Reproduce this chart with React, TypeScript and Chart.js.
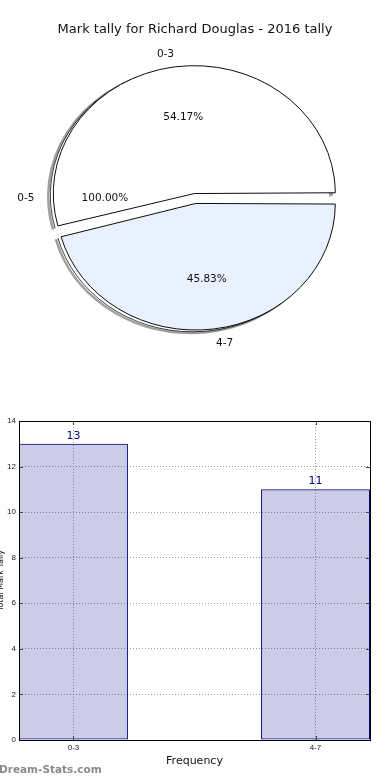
import React, { useEffect, useRef } from "react";
import { Chart, registerables } from "chart.js";

Chart.register(...registerables);

// ---- data ----
const pieCategories = ["0-3", "0-5", "4-7"];
const pieValues = [13, 0, 11];
const piePercentLabels = ["54.17%", "100.00%", "45.83%"];
const barCategories = ["0-3", "4-7"];
const barValues = [13, 11];
const yTickValues = [0, 2, 4, 6, 8, 10, 12, 14];

const TITLE = "Mark tally for Richard Douglas - 2016 tally";
const X_TITLE = "Frequency";
const Y_TITLE = "Total Mark Tally";
const WATERMARK = "Dream-Stats.com";

// drawing order for the pie (clockwise from east)
const pieOrder = [2, 1, 0];
const pieColors = ["#ffffff", "#ffffff", "#eaf1fe"];
const Y_RATIO = 0.907;
const FONT = "'DejaVu Sans', sans-serif";

const piePlugin = {
  id: "pieDecor",
  beforeDatasetsDraw(chart: any) {
    const ctx = chart.ctx as CanvasRenderingContext2D;
    const meta = chart.getDatasetMeta(0);
    const cy = meta.data[0].y;
    ctx.save();
    ctx.translate(0, cy);
    ctx.scale(1, Y_RATIO);
    ctx.translate(0, -cy);
    // shadow rings
    meta.data.forEach((arc: any) => {
      const circ = arc.endAngle - arc.startAngle;
      if (circ <= 0) return;
      const t = (arc.options.offset || 0) / 4;
      const mid = (arc.startAngle + arc.endAngle) / 2;
      const fix = 1 - Math.sin(Math.min(Math.PI, circ));
      const r = arc.outerRadius + t * fix;
      const cx = arc.x + Math.cos(mid) * t;
      const cyy = arc.y + Math.sin(mid) * t;
      const layers: [number, number, string, number][] = [
        [-5, 3, "rgba(80,80,80,0.55)", 2.6],
        [-3, 1.8, "rgba(0,0,0,0.85)", 0.9],
      ];
      layers.forEach(([dx, dy, col, lw]) => {
        ctx.beginPath();
        ctx.arc(cx + dx, cyy + dy / Y_RATIO, r, arc.startAngle, arc.endAngle);
        ctx.strokeStyle = col;
        ctx.lineWidth = lw;
        ctx.stroke();
      });
    });
  },
  afterDatasetsDraw(chart: any) {
    const ctx = chart.ctx as CanvasRenderingContext2D;
    ctx.restore();
    const meta = chart.getDatasetMeta(0);
    ctx.save();
    ctx.fillStyle = "#111";
    ctx.textBaseline = "middle";
    ctx.font = `10.5px ${FONT}`;
    meta.data.forEach((arc: any, j: number) => {
      const i = pieOrder[j];
      const t = (arc.options.offset || 0) / 4;
      const circ = arc.endAngle - arc.startAngle;
      const ang = circ === 0 ? Math.PI : (arc.startAngle + arc.endAngle) / 2;
      const c = Math.cos(ang);
      const s = Math.sin(ang);
      const cx = arc.x + c * t;
      const cyy = arc.y + s * t * Y_RATIO;
      const lr = arc.outerRadius + t;
      ctx.textAlign = "center";
      ctx.fillText(piePercentLabels[i], cx + c * 0.6 * lr, cyy + s * 0.6 * lr * Y_RATIO);
      ctx.textAlign = c < 0 ? "right" : "left";
      ctx.fillText(pieCategories[i], cx + c * 1.1 * lr, cyy + s * 1.1 * lr * Y_RATIO);
    });
    ctx.font = `13px ${FONT}`;
    ctx.textAlign = "center";
    ctx.fillText(TITLE, chart.width / 2, 30);
    ctx.restore();
  },
};

const barPlugin = {
  id: "barDecor",
  afterDraw(chart: any) {
    const ctx = chart.ctx as CanvasRenderingContext2D;
    const { left, right, top, bottom } = chart.chartArea;
    const xs = chart.scales.x;
    const ys = chart.scales.y;
    ctx.save();
    // tick marks (inward)
    ctx.strokeStyle = "#444";
    ctx.lineWidth = 1;
    yTickValues.forEach((v) => {
      const py = Math.round(ys.getPixelForValue(v)) + 0.5;
      ctx.beginPath();
      ctx.moveTo(left, py);
      ctx.lineTo(left + 4, py);
      ctx.moveTo(right - 4, py);
      ctx.lineTo(right, py);
      ctx.stroke();
    });
    barCategories.forEach((_, i) => {
      const px = Math.round(xs.getPixelForValue(i)) + 0.5;
      ctx.beginPath();
      ctx.moveTo(px, bottom);
      ctx.lineTo(px, bottom - 4);
      ctx.moveTo(px, top);
      ctx.lineTo(px, top + 4);
      ctx.stroke();
    });
    // frame
    ctx.strokeStyle = "#000";
    ctx.strokeRect(Math.floor(left) + 0.5, Math.floor(top) + 0.5, Math.round(right - left), Math.round(bottom - top));
    // value labels
    const meta = chart.getDatasetMeta(0);
    ctx.fillStyle = "#000080";
    ctx.font = `11px ${FONT}`;
    ctx.textAlign = "center";
    ctx.textBaseline = "middle";
    meta.data.forEach((bar: any, i: number) => {
      ctx.fillText(String(barValues[i]), bar.x, bar.y - 8);
    });
    // axis titles
    ctx.fillStyle = "#111";
    ctx.fillText(X_TITLE, (left + right) / 2, bottom + 21);
    ctx.save();
    ctx.translate(1, (top + bottom) / 2);
    ctx.rotate(-Math.PI / 2);
    ctx.font = `8px ${FONT}`;
    ctx.fillText(Y_TITLE, 0, 0);
    ctx.restore();
    // watermark
    ctx.fillStyle = "#8a8a8a";
    ctx.font = `bold 10.5px ${FONT}`;
    ctx.textAlign = "left";
    ctx.fillText(WATERMARK, -1, chart.height - 10);
    ctx.restore();
  },
};

export default function App() {
  const pieRef = useRef<HTMLCanvasElement>(null);
  const barRef = useRef<HTMLCanvasElement>(null);

  useEffect(() => {
    const pie = new Chart(pieRef.current!, {
      type: "pie",
      data: {
        labels: pieOrder.map((i) => pieCategories[i]),
        datasets: [
          {
            data: pieOrder.map((i) => pieValues[i]),
            backgroundColor: pieOrder.map((i) => pieColors[i]),
            borderColor: "#000",
            borderWidth: 1,
            offset: 22,
            radius: 135.5,
          } as any,
        ],
      },
      options: {
        animation: false,
        responsive: false,
        devicePixelRatio: 1,
        rotation: 90,
        layout: { padding: { left: 50, right: 50, top: 60, bottom: 43 } },
        plugins: { legend: { display: false }, tooltip: { enabled: false }, title: { display: false } },
        events: [],
      } as any,
      plugins: [piePlugin],
    });

    const gridColor = "rgba(140,140,140,0.85)";
    const tickFont = { family: "'Liberation Sans', sans-serif", size: 8 };
    const bar = new Chart(barRef.current!, {
      type: "bar",
      data: {
        datasets: [
          {
            data: barCategories.map((_, i) => ({ x: i, y: barValues[i] })),
            backgroundColor: "rgba(0,0,128,0.2)",
            borderColor: "#000080",
            borderWidth: 1,
            borderSkipped: false,
            barPercentage: 0.45,
            categoryPercentage: 1,
          } as any,
        ],
      },
      options: {
        animation: false,
        responsive: false,
        devicePixelRatio: 1,
        events: [],
        layout: { padding: { left: 0, right: 20, top: 41, bottom: 0 } },
        plugins: { legend: { display: false }, tooltip: { enabled: false } },
        scales: {
          x: {
            type: "linear",
            min: -0.225,
            max: 1.225,
            offset: false,
            afterBuildTicks: (s: any) => {
              s.ticks = barCategories.map((_, i) => ({ value: i }));
            },
            afterFit: (s: any) => {
              s.height = 40;
            },
            ticks: {
              callback: (v: any) => barCategories[v] ?? "",
              font: tickFont,
              color: "#222",
              padding: 3,
              maxRotation: 0,
            },
            grid: { color: gridColor, lineWidth: 1, drawTicks: false, offset: false },
            border: { display: false, dash: [1, 2] },
          },
          y: {
            min: 0,
            max: 14,
            afterBuildTicks: (s: any) => {
              s.ticks = yTickValues.map((v) => ({ value: v }));
            },
            afterFit: (s: any) => {
              s.width = 19;
            },
            ticks: { font: tickFont, color: "#222", padding: 3 },
            grid: { color: gridColor, lineWidth: 1, drawTicks: false },
            border: { display: false, dash: [1, 2] },
          },
        },
      } as any,
      plugins: [barPlugin],
    });

    return () => {
      pie.destroy();
      bar.destroy();
    };
  }, []);

  return (
    <div style={{ position: "absolute", left: 0, top: 0, width: 390, height: 780, background: "#fff" }}>
      <canvas
        ref={pieRef}
        width={390}
        height={380}
        style={{ position: "absolute", left: 0, top: 0, width: 390, height: 380 }}
      />
      <canvas
        ref={barRef}
        width={390}
        height={400}
        style={{ position: "absolute", left: 0, top: 380, width: 390, height: 400 }}
      />
    </div>
  );
}
